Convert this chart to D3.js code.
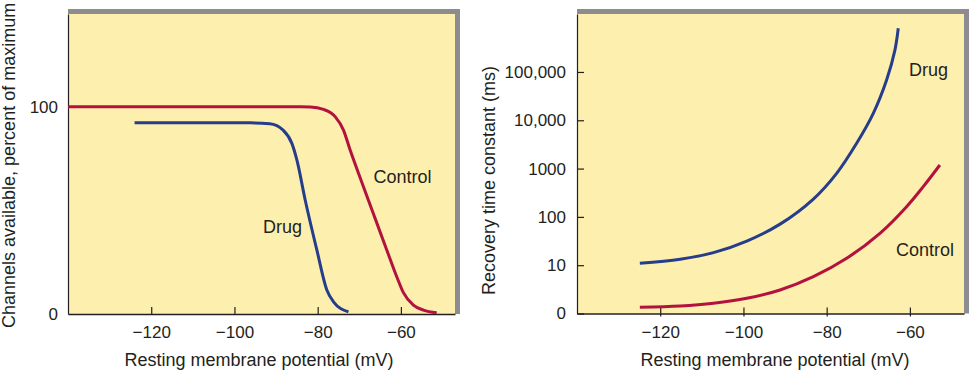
<!DOCTYPE html>
<html>
<head>
<meta charset="utf-8">
<script src="https://cdn.jsdelivr.net/npm/d3@7"></script>
<style>
  body { margin: 0; background: #fff; }
  svg text { font-family: "Liberation Sans", Arial, Helvetica, sans-serif; fill: #231f20; }
</style>
</head>
<body>
<svg width="969" height="371"></svg>
<script>
// data
const xTicks = [-120, -100, -80, -60];
const availTicks = [0, 100];
const tauTicks = [1, 10, 100, 1000, 10000, 100000];
const tauTickLabels = ["0", "10", "100", "1000", "10,000", "100,000"];

// left: channels available (%) vs resting potential (mV)
const availControl = [
  [-140, 100], [-84, 100], [-81.8, 99.9], [-78.6, 98.7], [-75.8, 95.2], [-73.8, 88.7],
  [-72.2, 79.1], [-69.4, 63.6], [-66.4, 47.2], [-63.4, 30.9], [-61, 18], [-59.4, 10.3],
  [-57, 4.3], [-54.6, 1.9], [-51.4, 0.6]
];
const availDrug = [
  [-124, 92.2], [-96.3, 92.2], [-91.5, 91.8], [-88.3, 88.7], [-86.2, 82.3], [-85, 74.3],
  [-83, 55], [-80.2, 30.9], [-77.8, 11.6], [-76.2, 5.9], [-72.6, 1]
];

// right: recovery time constant (ms) vs resting potential (mV)
const tauDrug = [
  [-124.9, 10.96], [-115.2, 13.3], [-107.2, 18.2], [-99.2, 31.6], [-91.2, 70.8],
  [-83.2, 234], [-77.6, 798], [-72.8, 3340], [-68.8, 13900], [-65.6, 68100],
  [-63.6, 284000], [-62.8, 802000]
];
const tauControl = [
  [-124.9, 1.34], [-115.2, 1.43], [-107.2, 1.63], [-99.2, 2.06], [-91.2, 3.06],
  [-83.2, 5.78], [-75.2, 13.9], [-67.2, 45.7], [-60.8, 163], [-56.8, 422], [-52.8, 1186]
];

const RED = "#b3123f", BLUE = "#263d8c", YELLOW = "#fdefae", GREY = "#8d8c8f", INK = "#231f20";

const svg = d3.select("svg");

function panel(left, right, yScale) {
  const g = svg.append("g");
  const x = d3.scaleLinear().domain([-140, -47]).range([left, right]);
  const top = yScale.range()[1], bottom = yScale.range()[0];

  g.append("rect").attr("x", left).attr("y", top).attr("width", right - left)
    .attr("height", bottom - top).attr("fill", YELLOW);
  // grey frame, top and right
  g.append("rect").attr("x", left).attr("y", top - 5).attr("width", right - left + 5)
    .attr("height", 5).attr("fill", GREY);
  g.append("rect").attr("x", right).attr("y", top - 5).attr("width", 5)
    .attr("height", bottom - top + 5).attr("fill", GREY);
  return { g, x };
}

// ---- left panel ----
const yAvail = d3.scaleLinear().domain([0, 144.7]).range([314, 14]);
const L = panel(68, 455, yAvail);

L.g.append("g").attr("transform", "translate(0,314)")
  .call(d3.axisBottom(L.x).tickValues(xTicks).tickSizeInner(-7).tickSizeOuter(0).tickPadding(12))
  .call(a => a.select(".domain").attr("stroke", INK).attr("stroke-width", 1.4))
  .call(a => a.selectAll(".tick line").attr("stroke", INK).attr("stroke-width", 1.2))
  .call(a => a.selectAll(".tick text").attr("font-size", 17).attr("fill", INK));

L.g.append("g").attr("transform", "translate(68,0)")
  .call(d3.axisLeft(yAvail).tickValues(availTicks).tickSize(0).tickPadding(10))
  .call(a => a.select(".domain").attr("stroke", INK).attr("stroke-width", 1.2))
  .call(a => a.selectAll(".tick text").attr("font-size", 17).attr("fill", INK));

const lineL = d3.line().x(d => L.x(d[0])).y(d => yAvail(d[1])).curve(d3.curveMonotoneX);
L.g.append("path").datum(availControl).attr("d", lineL)
  .attr("fill", "none").attr("stroke", RED).attr("stroke-width", 3);
L.g.append("path").datum(availDrug).attr("d", lineL)
  .attr("fill", "none").attr("stroke", BLUE).attr("stroke-width", 3);

L.g.append("text").attr("x", 402.5).attr("y", 183).attr("text-anchor", "middle")
  .attr("font-size", 18).text("Control");
L.g.append("text").attr("x", 282.5).attr("y", 233).attr("text-anchor", "middle")
  .attr("font-size", 18).text("Drug");

L.g.append("text").attr("x", 259).attr("y", 366).attr("text-anchor", "middle")
  .attr("font-size", 18).text("Resting membrane potential (mV)");
L.g.append("text").attr("transform", "translate(15,328) rotate(-90)")
  .attr("font-size", 18).text("Channels available, percent of maximum");

// ---- right panel ----
const yTau = d3.scaleLog().domain([1, Math.pow(10, 6.2)]).range([313.5, 14]);
const R = panel(577, 964, yTau);

R.g.append("g").attr("transform", "translate(0,313.5)")
  .call(d3.axisBottom(R.x).tickValues(xTicks).tickSizeInner(3).tickSizeOuter(0).tickPadding(9))
  .call(a => a.select(".domain").attr("stroke", INK).attr("stroke-width", 1.4))
  .call(a => a.selectAll(".tick line").attr("y1", -6).attr("stroke", INK).attr("stroke-width", 1.2))
  .call(a => a.selectAll(".tick text").attr("font-size", 17).attr("fill", INK));

R.g.append("g").attr("transform", "translate(577,0)")
  .call(d3.axisLeft(yTau).tickValues(tauTicks)
    .tickFormat((d, i) => tauTickLabels[i]).tickSizeInner(-7).tickSizeOuter(0).tickPadding(11))
  .call(a => a.select(".domain").attr("stroke", INK).attr("stroke-width", 1.2))
  .call(a => a.selectAll(".tick line").attr("stroke", INK).attr("stroke-width", 1.2))
  .call(a => a.selectAll(".tick text").attr("font-size", 17).attr("fill", INK));

const lineR = d3.line().x(d => R.x(d[0])).y(d => yTau(d[1])).curve(d3.curveCatmullRom.alpha(0.5));
R.g.append("path").datum(tauControl).attr("d", lineR)
  .attr("fill", "none").attr("stroke", RED).attr("stroke-width", 3);
R.g.append("path").datum(tauDrug).attr("d", lineR)
  .attr("fill", "none").attr("stroke", BLUE).attr("stroke-width", 3);

R.g.append("text").attr("x", 928.5).attr("y", 76).attr("text-anchor", "middle")
  .attr("font-size", 18).text("Drug");
R.g.append("text").attr("x", 925).attr("y", 256).attr("text-anchor", "middle")
  .attr("font-size", 18).text("Control");

R.g.append("text").attr("x", 775).attr("y", 366).attr("text-anchor", "middle")
  .attr("font-size", 18).text("Resting membrane potential (mV)");
R.g.append("text").attr("transform", "translate(495,295) rotate(-90)")
  .attr("font-size", 18).text("Recovery time constant (ms)");
</script>
</body>
</html>
